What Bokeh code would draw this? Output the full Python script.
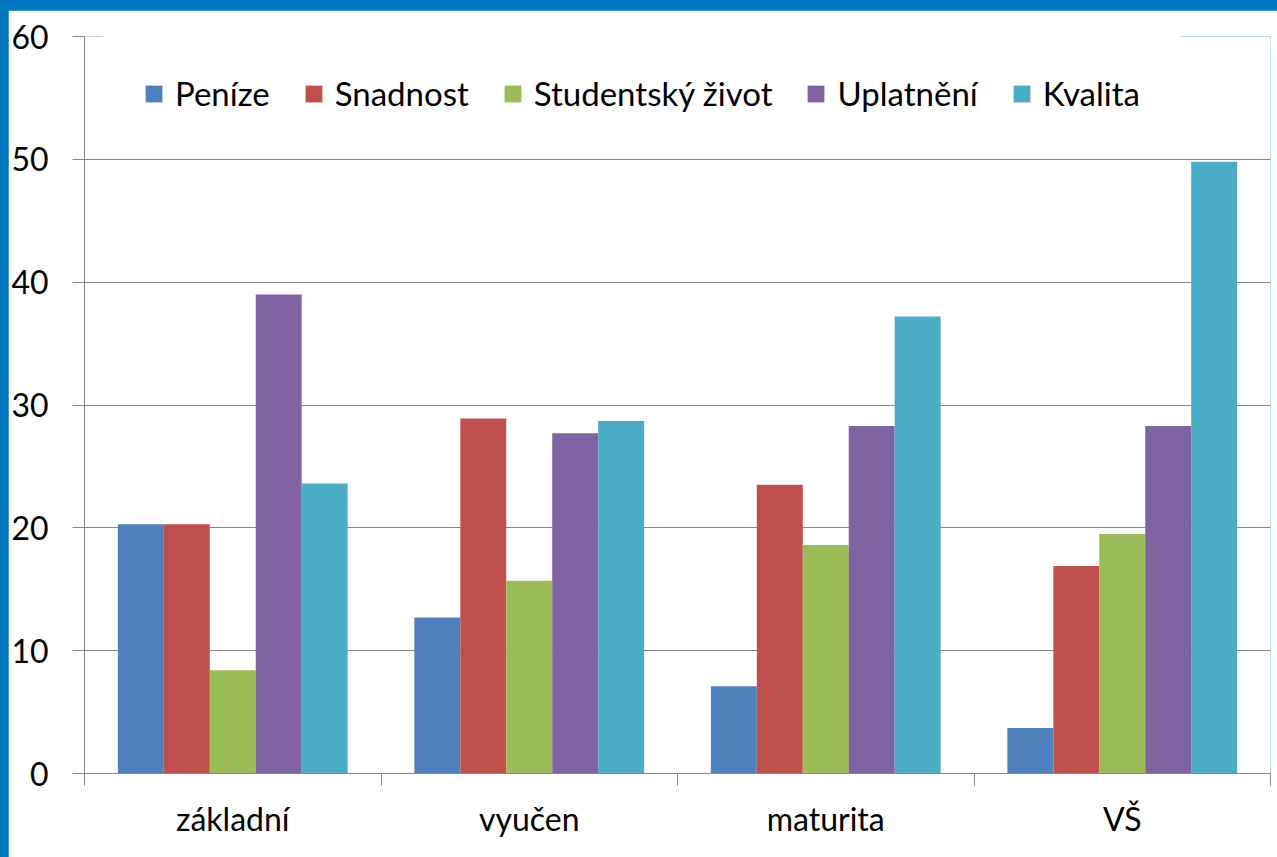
import numpy as np
from bokeh.plotting import figure
from bokeh.models import Range1d, FixedTicker, Legend, LegendItem
from bokeh.embed import file_html
from bokeh.resources import INLINE

categories = ["základní", "vyučen", "maturita", "VŠ"]
series_names = ["Peníze", "Snadnost", "Studentský život", "Uplatnění", "Kvalita"]
penize = [20.3, 12.7, 7.1, 3.7]
snadnost = [20.3, 28.9, 23.5, 16.9]
studentsky_zivot = [8.4, 15.7, 18.6, 19.5]
uplatneni = [39.0, 27.7, 28.3, 28.3]
kvalita = [23.6, 28.7, 37.2, 49.8]
colors = ["#4F81BD", "#C0504D", "#9BBB59", "#8064A2", "#4BACC6"]
y_ticks = [0, 10, 20, 30, 40, 50, 60]

series = [penize, snadnost, studentsky_zivot, uplatneni, kvalita]

FONT = "Lato"
FS = "32px"
GRAY = "#868686"
BAR_W = 0.155

p = figure(width=1269, height=847, output_backend="svg", toolbar_location=None,
           x_range=Range1d(0, len(categories)), y_range=Range1d(0, 60),
           min_border_left=74, min_border_right=7, min_border_top=26, min_border_bottom=84)
p.outline_line_color = None
p.background_fill_color = "white"
p.border_fill_color = "white"

centers = np.arange(len(categories)) + 0.5
items = []
for j, (name, vals, col) in enumerate(zip(series_names, series, colors)):
    xs = centers + (j - (len(series) - 1) / 2) * BAR_W
    r = p.vbar(x=xs, top=vals, bottom=0, width=BAR_W, fill_color=col, line_color=None)
    items.append(LegendItem(label=name, renderers=[r]))

# y axis
p.yaxis.ticker = FixedTicker(ticks=y_ticks)
p.yaxis.axis_line_color = GRAY
p.yaxis.major_tick_line_color = GRAY
p.yaxis.major_tick_out = 12
p.yaxis.major_tick_in = 0
p.yaxis.minor_tick_line_color = None
p.yaxis.major_label_text_font = FONT
p.yaxis.major_label_text_font_size = FS
p.yaxis.major_label_text_color = "#000000"
p.yaxis.major_label_standoff = 24
p.ygrid.grid_line_color = GRAY
p.ygrid.grid_line_width = 1
p.xgrid.grid_line_color = None

# x axis: labels at category centres, ticks at category boundaries
p.xaxis.ticker = FixedTicker(ticks=[float(c) for c in centers],
                             minor_ticks=[float(b) for b in np.arange(len(categories) + 1)])
p.xaxis.major_label_overrides = {float(c): name for c, name in zip(centers, categories)}
p.xaxis.axis_line_color = GRAY
p.xaxis.major_tick_line_color = None
p.xaxis.major_tick_out = 0
p.xaxis.major_tick_in = 0
p.xaxis.minor_tick_line_color = GRAY
p.xaxis.minor_tick_out = 12
p.xaxis.minor_tick_in = 0
p.xaxis.major_label_text_font = FONT
p.xaxis.major_label_text_font_size = FS
p.xaxis.major_label_text_color = "#000000"
p.xaxis.major_label_standoff = 13

legend = Legend(items=items, orientation="horizontal", location=(19, 620),
                background_fill_color="white", background_fill_alpha=1.0,
                border_line_color="white", border_line_width=40,
                label_text_font=FONT, label_text_font_size="33px",
                label_text_color="#000000",
                glyph_width=21, glyph_height=21, label_standoff=11, spacing=33,
                padding=0, margin=0)
p.add_layout(legend)

html = file_html(p, INLINE)
html = html.replace("</head>",
                    "<style>html,body{background:#0077BD !important;overflow:hidden !important;}"
                    "body{padding:10px 0 0 8px !important;}</style></head>", 1)
open("out.html", "w").write(html)
